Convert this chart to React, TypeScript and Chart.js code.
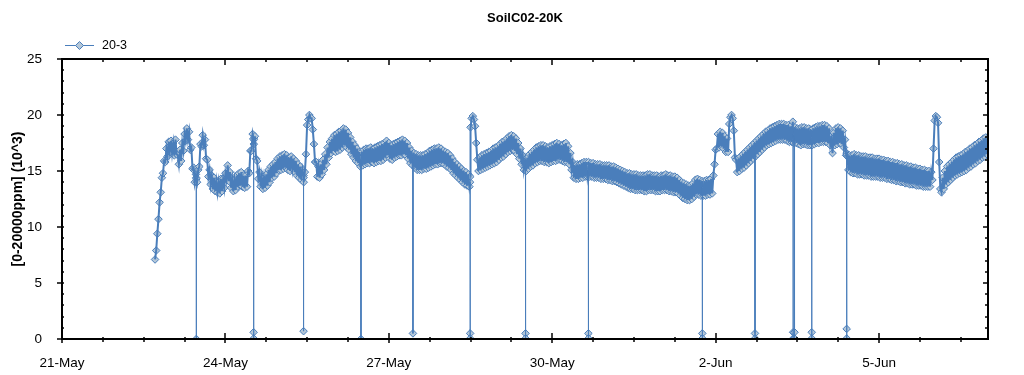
import React, { useEffect, useRef } from 'react';
import { Chart, registerables } from 'chart.js';

Chart.register(...registerables);

// ---------- text ----------
const TITLE = 'SoilC02-20K';
const SERIES_NAME = '20-3';
const Y_TITLE = '[0-20000ppm] (10^3)';
const MONTHS = ['Jan', 'Feb', 'Mar', 'Apr', 'May', 'Jun', 'Jul', 'Aug', 'Sep', 'Oct', 'Nov', 'Dec'];

// ---------- axes (x in hours since 21-May 00:00) ----------
const X_MIN = 0;
const X_MAX = 408; // 7-Jun 00:00
const X_LABEL_HOURS = [0, 72, 144, 216, 288, 360];
const X_MINOR_STEP = 18;
const Y_MIN = 0;
const Y_MAX = 25;
const Y_MAJOR = 5;
const Y_MINOR = 1;

// ---------- series readings, every 30 minutes ----------
const START_HOUR = 41; // 22-May 17:00
const STEP_HOURS = 0.5;
const may22 = [7.1, 7.9, 9.4, 10.7, 12.2, 13.1, 14.4, 14.8, 15.9, 15.8, 17.0, 16.3, 17.6, 16.7];
const may23 = [17.7, 16.6, 17.5, 16.4, 17.8, 16.5, 16.4, 15.6, 16.9, 15.9, 17.5, 16.8, 18.3, 17.7, 18.8, 17.8, 18.5, 16.9, 17.1, 15.2, 15.3, 14.0, 14.7, 14.0, 15.1, 15.4, 17.4, 17.2, 18.2, 17.3, 17.8, 16.1, 16.0, 14.5, 15.1, 13.8, 14.6, 13.4, 14.4, 13.2, 14.1, 13.1, 14.0, 13.0, 14.3, 13.2, 14.3, 13.5];
const may24 = [14.8, 14.2, 15.5, 14.1, 14.9, 13.5, 14.3, 13.2, 14.2, 13.3, 14.6, 13.6, 14.8, 13.7, 14.9, 13.6, 14.6, 13.5, 14.6, 13.6, 15.0, 14.8, 16.8, 16.8, 18.3, 17.4, 18.1, 16.1, 15.9, 14.3, 14.9, 13.6, 14.5, 13.4, 14.4, 13.5, 14.7, 13.7, 15.1, 14.0, 15.4, 14.4, 15.6, 14.5, 15.8, 14.8, 16.1, 15.1];
const may25 = [16.3, 15.1, 16.4, 15.2, 16.5, 15.3, 16.4, 15.1, 16.2, 15.0, 16.3, 15.2, 16.1, 14.9, 15.9, 14.6, 15.6, 14.4, 15.4, 14.2, 15.1, 14.0, 14.9, 16.5, 19.1, 19.6, 20.0, 19.7, 19.7, 18.7, 17.4, 15.8, 15.8, 14.5, 15.4, 14.4, 15.6, 14.7, 16.0, 15.1, 16.5, 15.6, 17.1, 16.2, 17.6, 16.6, 17.9, 16.8];
const may26 = [18.2, 16.7, 18.3, 16.8, 18.5, 16.9, 18.6, 17.1, 18.8, 17.3, 18.7, 17.1, 18.4, 16.9, 18.0, 16.5, 17.6, 16.2, 17.3, 15.9, 17.0, 15.7, 16.7, 15.4, 16.7, 15.5, 16.9, 15.6, 17.0, 15.7, 17.0, 15.7, 17.1, 15.8, 17.0, 15.7, 17.1, 15.8, 17.2, 15.9, 17.3, 15.9, 17.4, 16.0, 17.5, 16.2, 17.7, 16.4];
const may27 = [17.5, 16.1, 17.3, 16.0, 17.4, 16.2, 17.5, 16.3, 17.6, 16.4, 17.7, 16.4, 17.8, 16.5, 17.7, 16.4, 17.5, 16.1, 17.1, 15.7, 16.8, 15.5, 16.6, 15.3, 16.5, 15.1, 16.4, 15.1, 16.4, 15.1, 16.4, 15.2, 16.5, 15.2, 16.6, 15.3, 16.8, 15.4, 16.9, 15.5, 17.0, 15.6, 17.0, 15.6, 17.1, 15.7, 17.0, 15.7];
const may28 = [16.8, 15.6, 16.7, 15.4, 16.6, 15.3, 16.4, 15.1, 16.1, 14.8, 15.8, 14.6, 15.6, 14.4, 15.4, 14.2, 15.2, 14.0, 15.0, 13.8, 14.9, 13.7, 14.7, 13.6, 18.9, 19.7, 19.9, 19.6, 19.0, 17.5, 16.0, 15.0, 16.2, 15.1, 16.4, 15.2, 16.5, 15.3, 16.6, 15.4, 16.7, 15.5, 16.8, 15.6, 17.0, 15.7, 17.1, 15.8];
const may29 = [17.2, 16.0, 17.4, 16.2, 17.6, 16.3, 17.7, 16.5, 17.9, 16.7, 18.1, 16.8, 18.2, 16.9, 18.1, 16.8, 17.9, 16.5, 17.5, 16.1, 17.0, 15.6, 16.4, 15.1, 15.9, 15.0, 16.2, 15.2, 16.5, 15.4, 16.7, 15.5, 16.9, 15.7, 17.1, 15.8, 17.2, 15.9, 17.3, 15.9, 17.3, 15.8, 17.2, 15.8, 17.1, 15.7, 17.2, 15.8];
const may30 = [17.3, 15.9, 17.4, 15.9, 17.5, 16.0, 17.4, 16.0, 17.3, 15.9, 17.4, 15.8, 17.5, 15.8, 17.2, 15.6, 16.6, 15.1, 15.8, 14.4, 15.5, 14.3, 15.6, 14.3, 15.6, 14.4, 15.7, 14.4, 15.8, 14.5, 15.8, 14.5, 15.8, 14.5, 15.7, 14.5, 15.7, 14.4, 15.6, 14.4, 15.6, 14.4, 15.6, 14.3, 15.5, 14.3, 15.5, 14.3];
const may31 = [15.5, 14.2, 15.5, 14.2, 15.4, 14.1, 15.4, 14.1, 15.3, 14.0, 15.2, 13.9, 15.1, 13.8, 15.0, 13.7, 14.9, 13.6, 14.8, 13.5, 14.8, 13.4, 14.7, 13.4, 14.7, 13.3, 14.7, 13.3, 14.6, 13.3, 14.6, 13.3, 14.6, 13.2, 14.6, 13.2, 14.7, 13.3, 14.7, 13.3, 14.6, 13.3, 14.6, 13.2, 14.6, 13.2, 14.5, 13.2];
const jun01 = [14.6, 13.3, 14.6, 13.3, 14.7, 13.3, 14.6, 13.2, 14.6, 13.2, 14.5, 13.1, 14.5, 13.1, 14.4, 13.0, 14.2, 12.8, 14.0, 12.6, 13.9, 12.5, 13.8, 12.4, 13.7, 12.4, 13.7, 12.5, 13.9, 12.7, 14.2, 12.9, 14.3, 12.9, 14.2, 12.8, 14.1, 12.8, 14.1, 12.8, 14.2, 12.9, 14.2, 12.9, 14.3, 13.0, 14.6, 15.6];
const jun02 = [16.9, 17.0, 18.3, 17.1, 18.5, 17.2, 18.4, 17.0, 18.1, 16.7, 17.9, 16.7, 19.2, 19.8, 20.0, 19.7, 18.6, 16.2, 16.0, 14.9, 16.1, 15.0, 16.3, 15.2, 16.5, 15.3, 16.7, 15.5, 16.9, 15.7, 17.1, 15.9, 17.3, 16.1, 17.5, 16.3, 17.7, 16.5, 17.9, 16.7, 18.1, 16.9, 18.3, 17.1, 18.5, 17.3, 18.6, 17.4];
const jun03 = [18.8, 17.5, 18.9, 17.6, 19.0, 17.7, 19.1, 17.8, 19.2, 17.8, 19.2, 17.8, 19.2, 17.8, 19.1, 17.7, 19.1, 17.6, 19.0, 17.6, 19.4, 17.5, 18.9, 17.5, 18.8, 17.4, 18.8, 17.3, 18.9, 17.4, 18.9, 17.4, 18.8, 17.3, 18.8, 17.3, 18.7, 17.3, 18.8, 17.4, 18.9, 17.5, 19.0, 17.5, 19.0, 17.6, 19.1, 17.6];
const jun04 = [19.1, 17.6, 19.0, 17.5, 18.8, 17.3, 17.8, 16.6, 18.4, 17.3, 18.8, 17.4, 18.9, 17.5, 18.8, 17.4, 18.6, 17.1, 17.8, 16.4, 16.5, 15.1, 16.4, 14.9, 16.4, 14.8, 16.5, 14.8, 16.4, 14.7, 16.4, 14.7, 16.3, 14.7, 16.3, 14.6, 16.3, 14.6, 16.2, 14.6, 16.2, 14.5, 16.2, 14.5, 16.1, 14.5, 16.1, 14.5];
const jun05 = [16.1, 14.4, 16.0, 14.4, 16.0, 14.4, 15.9, 14.3, 15.9, 14.3, 15.8, 14.2, 15.8, 14.2, 15.7, 14.1, 15.7, 14.1, 15.6, 14.0, 15.6, 14.0, 15.5, 13.9, 15.5, 13.9, 15.4, 13.8, 15.4, 13.8, 15.3, 13.8, 15.3, 13.7, 15.2, 13.7, 15.2, 13.7, 15.1, 13.6, 15.1, 13.6, 15.0, 13.6, 15.0, 13.6, 14.9, 14.2];
const jun06 = [17.0, 19.5, 19.9, 19.8, 19.3, 15.8, 13.4, 13.1, 14.4, 13.4, 15.0, 13.8, 15.4, 14.0, 15.6, 14.2, 15.8, 14.4, 16.0, 14.6, 16.2, 14.7, 16.3, 14.8, 16.4, 14.9, 16.5, 15.0, 16.7, 15.1, 16.8, 15.3, 17.0, 15.4, 17.1, 15.6, 17.3, 15.7, 17.4, 15.9, 17.6, 16.0, 17.7, 16.2, 17.9, 16.3, 18.0, 16.5, 17.9];

// ---------- sensor drop-outs: start hour and the readings logged around it ----------
const dropHours = [59.15, 84.4, 106.4, 131.7, 154.6, 179.8, 204.2, 231.9, 282.1, 305.3, 322.1, 322.7, 330.3, 345.7];
const dropLevels = [
  [14.4, 0.0, 14.3],
  [17.9, 0.6, 0.05, 17.8],
  [14.6, 0.7, 14.4],
  [16.0, 0.0, 16.1],
  [16.0, 0.5, 16.1],
  [14.0, 0.5, 0.05, 14.5],
  [15.5, 0.5, 0.05, 15.4],
  [15.1, 0.5, 0.05, 15.0],
  [13.5, 0.5, 0.05, 13.4],
  [16.9, 0.5, 0.05, 16.8],
  [18.3, 0.6, 0.05, 18.2],
  [18.2, 0.6, 0.05, 18.1],
  [18.0, 0.6, 0.05, 18.0],
  [16.6, 0.9, 0.05, 16.4],
];

// ---------- style ----------
const FONT = '"Liberation Sans", Arial, sans-serif';
const BLUE = '#4A7EBB';
const FILL = '#B4C7D8';

function buildPoints() {
  const readings = [
    ...may22, ...may23, ...may24, ...may25, ...may26, ...may27, ...may28, ...may29,
    ...may30, ...may31, ...jun01, ...jun02, ...jun03, ...jun04, ...jun05, ...jun06,
  ];
  const pts = readings.map((v, i) => ({ x: START_HOUR + i * STEP_HOURS, y: v }));
  dropHours.forEach((h, k) => {
    dropLevels[k].forEach((v, j) => pts.push({ x: h + j * 0.03, y: v }));
  });
  pts.sort((a, b) => a.x - b.x);
  return pts;
}

function hourLabel(h: number) {
  const d = new Date(Date.UTC(2024, 4, 21) + h * 3600 * 1000);
  return `${d.getUTCDate()}-${MONTHS[d.getUTCMonth()]}`;
}

const decor = {
  id: 'decor',
  afterDraw(chart: any) {
    const { ctx, chartArea: a, scales } = chart;
    const x = scales.x;
    const y = scales.y;
    const line = (x1: number, y1: number, x2: number, y2: number) => {
      ctx.beginPath();
      ctx.moveTo(x1, y1);
      ctx.lineTo(x2, y2);
      ctx.stroke();
    };
    ctx.save();
    ctx.strokeStyle = '#000';
    ctx.lineWidth = 1.5;
    for (let v = Y_MIN; v <= Y_MAX; v += Y_MINOR) {
      const py = Math.round(y.getPixelForValue(v));
      const major = v % Y_MAJOR === 0;
      line(a.left - (major ? 5 : 1), py, a.left + 2, py);
      line(a.right - (major ? 5 : 3), py, a.right, py);
    }
    for (let h = X_MIN; h < X_MAX; h += X_MINOR_STEP) {
      const px = Math.round(x.getPixelForValue(h));
      const major = X_LABEL_HOURS.includes(h);
      line(px, a.bottom - (major ? 6 : 2), px, a.bottom + (major ? 4 : 3));
      line(px, a.top, px, a.top + (major ? 6 : 3));
    }
    ctx.lineWidth = 2;
    ctx.strokeRect(a.left, a.top, a.right - a.left, a.bottom - a.top);

    // title
    ctx.fillStyle = '#000';
    ctx.font = `bold 13px ${FONT}`;
    ctx.textAlign = 'center';
    ctx.textBaseline = 'middle';
    ctx.fillText(TITLE, (a.left + a.right) / 2, 18);

    // legend
    const ly = 45.5;
    ctx.strokeStyle = BLUE;
    ctx.lineWidth = 1;
    line(65, ly, 94, ly);
    ctx.beginPath();
    ctx.moveTo(79.5, ly - 4);
    ctx.lineTo(83.5, ly);
    ctx.lineTo(79.5, ly + 4);
    ctx.lineTo(75.5, ly);
    ctx.closePath();
    ctx.fillStyle = FILL;
    ctx.fill();
    ctx.stroke();
    ctx.fillStyle = '#000';
    ctx.font = `12.5px ${FONT}`;
    ctx.textAlign = 'left';
    ctx.fillText(SERIES_NAME, 102, ly);
    ctx.restore();
  },
};

export default function App() {
  const ref = useRef<HTMLCanvasElement | null>(null);

  useEffect(() => {
    document.body.style.margin = '0';
    const canvas = ref.current;
    if (!canvas) return;
    const points = buildPoints();
    const chart = new Chart(canvas, {
      type: 'line',
      data: {
        datasets: [
          {
            // markers (drawn underneath)
            label: SERIES_NAME,
            data: points,
            order: 2,
            showLine: false,
            pointStyle: 'rectRot',
            pointRadius: 3.8,
            pointBackgroundColor: FILL,
            pointBorderColor: BLUE,
            pointBorderWidth: 1,
          },
          {
            // connecting line (drawn on top); thin where it drops to the sensor faults
            label: SERIES_NAME,
            data: points,
            order: 1,
            borderColor: BLUE,
            borderWidth: 2,
            pointRadius: 0,
            tension: 0,
            segment: {
              borderWidth: (c: any) => (c.p0.parsed.y < 5 || c.p1.parsed.y < 5 ? 1 : 2),
            },
          },
        ],
      },
      options: {
        animation: false,
        responsive: false,
        devicePixelRatio: 1,
        layout: { padding: { left: 0, right: 36, top: 59, bottom: 0 } },
        plugins: {
          legend: { display: false },
          title: { display: false },
          tooltip: { enabled: false },
        },
        scales: {
          x: {
            type: 'linear',
            min: X_MIN,
            max: X_MAX,
            grid: { display: false },
            border: { display: false },
            ticks: {
              color: '#000',
              font: { family: FONT, size: 13.5 },
              padding: 8,
              maxRotation: 0,
              autoSkip: false,
              callback: (v: any) => hourLabel(Number(v)),
            },
            afterBuildTicks: (s: any) => {
              s.ticks = X_LABEL_HOURS.map((v) => ({ value: v }));
            },
            afterFit: (s: any) => {
              s.height = 36;
            },
          },
          y: {
            type: 'linear',
            min: Y_MIN,
            max: Y_MAX,
            grid: { display: false },
            border: { display: false },
            ticks: {
              stepSize: Y_MAJOR,
              color: '#000',
              font: { family: FONT, size: 13.5 },
              padding: 12,
            },
            title: {
              display: true,
              text: Y_TITLE,
              color: '#000',
              font: { family: FONT, size: 14, weight: 'bold' },
              padding: { top: 10, bottom: 0 },
            },
            afterFit: (s: any) => {
              s.width = 62;
            },
          },
        },
      },
      plugins: [decor],
    } as any);
    return () => chart.destroy();
  }, []);

  return (
    <div style={{ width: 1024, height: 375, background: '#fff' }}>
      <canvas ref={ref} width={1024} height={375} style={{ display: 'block' }} />
    </div>
  );
}
